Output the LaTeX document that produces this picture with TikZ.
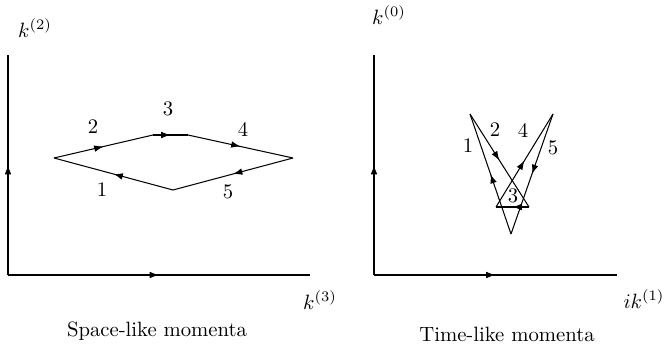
\documentclass[tikz,border=0pt]{standalone}
\usepackage{amsmath,amssymb}
\usepackage{tikz}
\usetikzlibrary{arrows.meta,decorations.markings}

\tikzset{
  midarrow/.style={postaction={decorate},
    decoration={markings,mark=at position .5 with {\arrow{Latex[length=4.5pt,width=3.2pt]}}}},
  lbl/.style={inner sep=0pt}
}

\begin{document}
\begin{tikzpicture}[x=0.483pt,y=-0.483pt,line width=0.5pt]
\useasboundingbox (0,0) rectangle (667,351);
% axes, space-like
\coordinate (o1) at (8,275); \coordinate (v1) at (8,55); \coordinate (h1) at (310,275);
\draw[midarrow] (o1) -- (v1);
\draw[midarrow] (o1) -- (h1);
\node[lbl] (k2) at (35,28) {$k^{(2)}$};
\node[lbl] (k3) at (320,300) {$k^{(3)}$};
% axes, time-like
\coordinate (o2) at (374,275); \coordinate (v2) at (374,55); \coordinate (h2) at (617,275);
\draw[midarrow] (o2) -- (v2);
\draw[midarrow] (o2) -- (h2);
\node[lbl] (k0) at (389,15) {$k^{(0)}$};
\node[lbl] (k1) at (644,299) {$ik^{(1)}$};
% contour, space-like
\coordinate (a) at (54,158); \coordinate (b) at (153,135); \coordinate (c) at (188,135);
\coordinate (d) at (293,158); \coordinate (e) at (173,190);
\draw[midarrow] (a) -- (b);
\draw[midarrow] (b) -- (c);
\draw[midarrow] (c) -- (d);
\draw[midarrow] (d) -- (e);
\draw[midarrow] (e) -- (a);
\node[lbl] (s1) at (102,190) {1};
\node[lbl] (s2) at (93,127) {2};
\node[lbl] (s3) at (168,109) {3};
\node[lbl] (s4) at (243,129) {4};
\node[lbl] (s5) at (228,192) {5};
% contour, time-like
\coordinate (p) at (470,114); \coordinate (q) at (553,114); \coordinate (r) at (511,234);
\coordinate (s) at (529,207); \coordinate (t) at (496,207);
\draw[midarrow] (r) -- (p);
\draw[midarrow] (p) -- (s);
\draw[midarrow] (s) -- (t);
\draw[midarrow] (t) -- (q);
\draw[midarrow] (q) -- (r);
\node[lbl] (t1) at (468,146) {1};
\node[lbl] (t2) at (495,130) {2};
\node[lbl] (t3) at (513,196) {3};
\node[lbl] (t4) at (523,130) {4};
\node[lbl] (t5) at (553,148) {5};
% captions
\node[lbl] (cap1) at (157,331) {Space-like momenta};
\node[lbl] (cap2) at (507,334) {Time-like momenta};
\end{tikzpicture}
\end{document}
